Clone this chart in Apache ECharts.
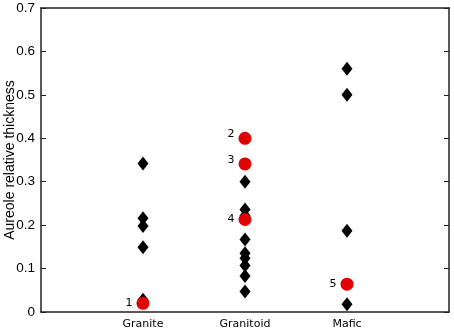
<!DOCTYPE html>
<html>
<head>
<meta charset="utf-8">
<script src="https://cdn.jsdelivr.net/npm/echarts@6/dist/echarts.min.js"></script>
<style>
  html, body { margin: 0; padding: 0; background: #fff; }
  #chart { width: 454px; height: 332px; }
</style>
</head>
<body>
<div id="chart"></div>
<script>
// rock types along the x axis (placed at 1, 2, 3)
var categories = ['Granite', 'Granitoid', 'Mafic'];

// black diamonds, one list per rock type
var graniteValues = [0.342, 0.216, 0.198, 0.149, 0.028];
var granitoidValues = [0.300, 0.236, 0.222, 0.167, 0.135, 0.124, 0.107, 0.083, 0.047];
var maficValues = [0.560, 0.500, 0.187, 0.018];

// numbered red points
var redCategory = [1, 2, 2, 2, 3];
var redValues = [0.020, 0.400, 0.341, 0.213, 0.064];
var redLabels = ['1', '2', '3', '4', '5'];

var yTicks = [0, 0.1, 0.2, 0.3, 0.4, 0.5, 0.6, 0.7];

var diamonds = [];
graniteValues.forEach(function (v) { diamonds.push([1, v]); });
granitoidValues.forEach(function (v) { diamonds.push([2, v]); });
maficValues.forEach(function (v) { diamonds.push([3, v]); });

var reds = redValues.map(function (v, i) {
    var up = (redLabels[i] === '2' || redLabels[i] === '3');
    return {
        value: [redCategory[i], v],
        label: { offset: up ? [0, -4] : [0, 0] }
    };
});

var frame = { show: true, onZero: false, lineStyle: { color: '#222', width: 1.5 } };

var chart = echarts.init(document.getElementById('chart'));
chart.setOption({
    animation: false,
    grid: { left: 41, right: 5, top: 8, bottom: 20, containLabel: false, outerBoundsMode: 'none' },
    xAxis: [
        {
            type: 'value', min: 0, max: 4, interval: 1,
            axisLine: frame,
            axisTick: { show: false },
            splitLine: { show: false },
            axisLabel: {
                margin: 7,
                color: '#000',
                fontFamily: 'DejaVu Sans',
                fontSize: 11,
                formatter: function (v) { return categories[v - 1] || ''; }
            }
        },
        {
            type: 'value', position: 'top', min: 0, max: 4,
            axisLine: frame,
            axisTick: { show: false },
            axisLabel: { show: false },
            splitLine: { show: false }
        }
    ],
    yAxis: [
        {
            type: 'value', min: 0, max: 0.7, interval: 0.1,
            name: 'Aureole relative thickness',
            nameLocation: 'middle',
            nameGap: 24,
            nameMoveOverlap: false,
            nameTextStyle: { color: '#000', fontFamily: 'Liberation Sans', fontSize: 14 },
            axisLine: frame,
            axisTick: { inside: true, length: 5, lineStyle: { color: '#222' } },
            splitLine: { show: false },
            axisLabel: {
                margin: 6,
                color: '#000',
                fontFamily: 'Liberation Sans',
                fontSize: 13.5,
                formatter: function (v) {
                    var t = yTicks.find(function (x) { return Math.abs(x - v) < 1e-9; });
                    return t === 0 ? '0' : t.toFixed(1);
                }
            }
        },
        {
            type: 'value', position: 'right', min: 0, max: 0.7, interval: 0.1,
            axisLine: frame,
            axisTick: { inside: true, length: 5, lineStyle: { color: '#222' } },
            axisLabel: { show: false },
            splitLine: { show: false }
        }
    ],
    series: [
        {
            type: 'scatter',
            symbol: 'diamond',
            symbolSize: [11, 14],
            itemStyle: { color: '#000', opacity: 1 },
            data: diamonds,
            z: 2
        },
        {
            type: 'scatter',
            symbol: 'circle',
            symbolSize: 13,
            itemStyle: { color: '#e00000', opacity: 1 },
            label: {
                show: true,
                position: 'left',
                distance: 4,
                color: '#000',
                fontFamily: 'DejaVu Sans',
                fontSize: 11,
                formatter: function (p) { return redLabels[p.dataIndex]; }
            },
            data: reds,
            z: 3
        }
    ]
});
</script>
</body>
</html>
